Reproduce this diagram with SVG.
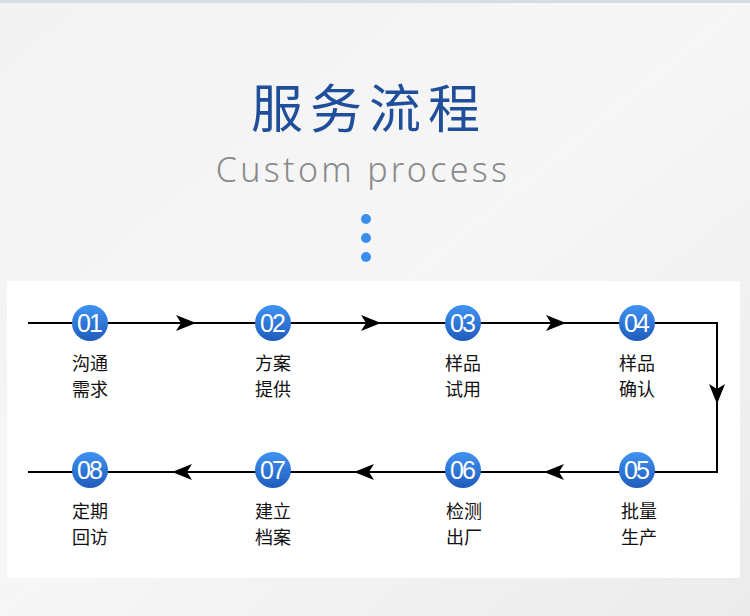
<svg xmlns="http://www.w3.org/2000/svg" width="750" height="616" viewBox="0 0 750 616">
<defs>
<linearGradient id="bg" x1="0" y1="0" x2="1" y2="1">
<stop offset="0" stop-color="#f2f2f2"/><stop offset="0.5" stop-color="#f6f6f6"/><stop offset="1" stop-color="#ebebeb"/>
</linearGradient>
<linearGradient id="cg" x1="0" y1="0" x2="0" y2="1">
<stop offset="0" stop-color="#3f93f2"/><stop offset="1" stop-color="#1f5cbd"/>
</linearGradient>
<marker id="ah" viewBox="0 0 20 16" refX="10" refY="8" markerWidth="20" markerHeight="16" markerUnits="userSpaceOnUse" orient="auto">
<path d="M0,0 L20,8 L0,16 L5,8 Z" fill="#000"/>
</marker>
<style>
.num{font-family:"Liberation Sans Narrow","Liberation Sans",Arial,sans-serif;font-size:25px;fill:#fff;text-anchor:middle;letter-spacing:-2px}
.lbl{font-family:"Noto Sans CJK SC","Noto Sans",sans-serif;font-size:18px;fill:#111;text-anchor:middle}
.ln{fill:none;stroke:#000;stroke-width:2}
</style>
</defs>
<rect width="750" height="616" fill="url(#bg)"/>
<rect width="750" height="3" fill="#d8dce6"/>
<text x="369" y="128" font-family="'Noto Sans CJK SC',sans-serif" font-size="52" fill="#1f4e9a" text-anchor="middle" letter-spacing="7">服务流程</text>
<text x="363" y="182" font-family="'Noto Sans','Open Sans',sans-serif" font-size="34" fill="#8a8a8a" text-anchor="middle" letter-spacing="3.3" font-weight="300">Custom process</text>
<g fill="#3a8ef0"><circle cx="366" cy="219" r="5"/><circle cx="366" cy="238" r="5"/><circle cx="366" cy="257" r="5"/></g>
<rect x="7" y="281" width="733" height="297" fill="#fff"/>
<g id="connectors">
<path class="ln" d="M28,323 H717 V472 H28"/>
<path class="ln" d="M170,323 H186" marker-end="url(#ah)"/>
<path class="ln" d="M355,323 H371" marker-end="url(#ah)"/>
<path class="ln" d="M540,323 H556" marker-end="url(#ah)"/>
<path class="ln" d="M717,380 V394" marker-end="url(#ah)"/>
<path class="ln" d="M570,472 H554" marker-end="url(#ah)"/>
<path class="ln" d="M380,472 H364" marker-end="url(#ah)"/>
<path class="ln" d="M198,472 H182" marker-end="url(#ah)"/>
</g>
<g id="n1"><circle cx="90" cy="323" r="18" fill="url(#cg)"/><text class="num" x="89" y="332">01</text><text class="lbl" x="90" y="370">沟通</text><text class="lbl" x="90" y="396">需求</text></g>
<g id="n2"><circle cx="273" cy="323" r="18" fill="url(#cg)"/><text class="num" x="272" y="332">02</text><text class="lbl" x="273" y="370">方案</text><text class="lbl" x="273" y="396">提供</text></g>
<g id="n3"><circle cx="463" cy="323" r="18" fill="url(#cg)"/><text class="num" x="462" y="332">03</text><text class="lbl" x="463" y="370">样品</text><text class="lbl" x="463" y="396">试用</text></g>
<g id="n4"><circle cx="637" cy="323" r="18" fill="url(#cg)"/><text class="num" x="636" y="332">04</text><text class="lbl" x="637" y="370">样品</text><text class="lbl" x="637" y="396">确认</text></g>
<g id="n5"><circle cx="637" cy="470" r="18" fill="url(#cg)"/><text class="num" x="636" y="479">05</text><text class="lbl" x="639" y="518">批量</text><text class="lbl" x="639" y="544">生产</text></g>
<g id="n6"><circle cx="463" cy="470" r="18" fill="url(#cg)"/><text class="num" x="462" y="479">06</text><text class="lbl" x="464" y="518">检测</text><text class="lbl" x="464" y="544">出厂</text></g>
<g id="n7"><circle cx="273" cy="470" r="18" fill="url(#cg)"/><text class="num" x="272" y="479">07</text><text class="lbl" x="273" y="518">建立</text><text class="lbl" x="273" y="544">档案</text></g>
<g id="n8"><circle cx="90" cy="470" r="18" fill="url(#cg)"/><text class="num" x="89" y="479">08</text><text class="lbl" x="90" y="518">定期</text><text class="lbl" x="90" y="544">回访</text></g>
</svg>
